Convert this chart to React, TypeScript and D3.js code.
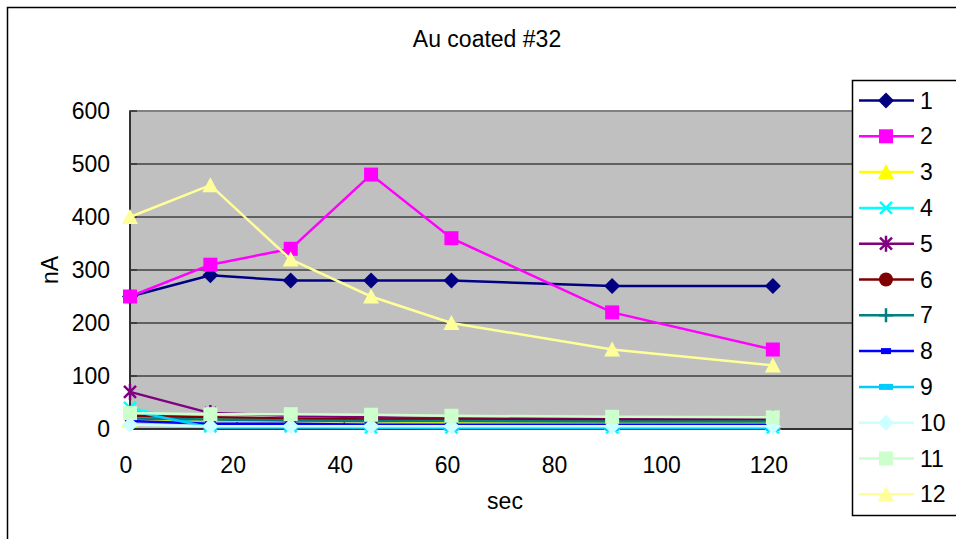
import React from 'react';
import * as d3 from 'd3';

// time points (sec)
const times = [0, 15, 30, 45, 60, 90, 120];

const s1 = [250, 290, 280, 280, 280, 270, 270];
const s2 = [250, 310, 340, 480, 360, 220, 150];
const s3 = [17, 18, 15, 15, 12, 12, 12];
const s4 = [40, 5, 5, 3, 3, 3, 3];
const s5 = [70, 30, 25, 22, 20, 20, 20];
const s6 = [25, 22, 20, 18, 18, 17, 17];
const s7 = [20, 18, 16, 15, 15, 14, 14];
const s8 = [15, 10, 10, 8, 8, 8, 8];
const s9 = [35, 3, 3, 3, 2, 2, 2];
const s10 = [8, 5, 5, 5, 5, 5, 5];
const s11 = [30, 28, 28, 27, 25, 23, 22];
const s12 = [400, 460, 320, 250, 200, 150, 120];

const seriesNames = ['1', '2', '3', '4', '5', '6', '7', '8', '9', '10', '11', '12'];
const seriesValues = [s1, s2, s3, s4, s5, s6, s7, s8, s9, s10, s11, s12];
const colors = ['#000080', '#FF00FF', '#FFFF00', '#00FFFF', '#800080', '#800000',
  '#008080', '#0000FF', '#00CCFF', '#CCFFFF', '#CCFFCC', '#FFFF99'];
const markers = ['diamond', 'square', 'triangle', 'x', 'star', 'circle',
  'plus', 'dash', 'bar', 'diamond', 'square', 'triangle'];

const yTicks = [0, 100, 200, 300, 400, 500, 600];
const xTicks = [0, 20, 40, 60, 80, 100, 120, 140];

const W = 956, H = 539;
const plot = { left: 130, top: 111, right: 880, bottom: 429 };

const font = 'Liberation Sans, Arial, sans-serif';

function Marker({ type, x, y, color }: { type: string; x: number; y: number; color: string }) {
  switch (type) {
    case 'diamond':
      return <path d={`M${x},${y - 8}L${x + 8},${y}L${x},${y + 8}L${x - 8},${y}Z`} fill={color} />;
    case 'square':
      return <rect x={x - 7} y={y - 7} width={14} height={14} fill={color} />;
    case 'triangle':
      return <path d={`M${x},${y - 8}L${x + 8},${y + 7}L${x - 8},${y + 7}Z`} fill={color} />;
    case 'x':
      return <path d={`M${x - 6},${y - 6}L${x + 6},${y + 6}M${x + 6},${y - 6}L${x - 6},${y + 6}`} stroke={color} strokeWidth={2.5} />;
    case 'star':
      return <path d={`M${x - 6},${y - 6}L${x + 6},${y + 6}M${x + 6},${y - 6}L${x - 6},${y + 6}M${x},${y - 8}L${x},${y + 8}`} stroke={color} strokeWidth={2.5} />;
    case 'circle':
      return <circle cx={x} cy={y} r={7} fill={color} />;
    case 'plus':
      return <path d={`M${x - 7},${y}L${x + 7},${y}M${x},${y - 7}L${x},${y + 7}`} stroke={color} strokeWidth={2.5} />;
    case 'dash':
      return <rect x={x - 5} y={y - 3} width={10} height={6} fill={color} />;
    case 'bar':
      return <rect x={x - 7} y={y - 3} width={14} height={6} fill={color} />;
    default:
      return null;
  }
}

export default function App() {
  const x = d3.scaleLinear().domain([0, 140]).range([plot.left, plot.right]);
  const y = d3.scaleLinear().domain([0, 600]).range([plot.bottom, plot.top]);
  const line = d3.line<number>().x((_, i) => x(times[i])).y((d) => y(d));

  const legend = { left: 852.5, top: 80.5, rowH: 35.8 };

  return (
    <svg width={W} height={H} style={{ position: 'absolute', left: 0, top: 0 }} fontFamily={font}>
      <rect x={0} y={0} width={W} height={H} fill="#fff" />
      <rect x={7.5} y={7.5} width={W + 10} height={H + 10} fill="none" stroke="#000" strokeWidth={1.5} />
      <text x={487} y={47} textAnchor="middle" fontSize={23}>Au coated #32</text>

      <rect x={plot.left} y={plot.top} width={plot.right - plot.left} height={plot.bottom - plot.top}
        fill="#C0C0C0" stroke="#808080" strokeWidth={2} />
      {yTicks.slice(1, -1).map((t) => (
        <line key={t} x1={plot.left} x2={plot.right} y1={y(t)} y2={y(t)} stroke="#000" strokeWidth={1} />
      ))}
      {/* axes */}
      <line x1={plot.left} x2={plot.left} y1={plot.top} y2={plot.bottom} stroke="#333" strokeWidth={2} />
      <line x1={plot.left} x2={plot.right} y1={plot.bottom} y2={plot.bottom} stroke="#333" strokeWidth={2} />
      {yTicks.map((t) => (
        <g key={t}>
          <line x1={plot.left} x2={plot.left + 7} y1={y(t)} y2={y(t)} stroke="#333" strokeWidth={1.5} />
          <text x={110} y={y(t) + 8} textAnchor="end" fontSize={23}>{t}</text>
        </g>
      ))}
      {xTicks.map((t) => (
        <g key={t}>
          <line x1={x(t)} x2={x(t)} y1={plot.bottom} y2={plot.bottom - 7} stroke="#333" strokeWidth={1.5} />
          <text x={x(t) - 4} y={473} textAnchor="middle" fontSize={23}>{t}</text>
        </g>
      ))}
      <text x={505} y={509} textAnchor="middle" fontSize={23}>sec</text>
      <text transform="translate(58,270) rotate(-90)" textAnchor="middle" fontSize={23}>nA</text>

      {seriesValues.map((vals, si) => (
        <g key={si}>
          <path d={line(vals) || ''} fill="none" stroke={colors[si]} strokeWidth={2.5} />
          {vals.map((v, i) => (
            <Marker key={i} type={markers[si]} x={x(times[i])} y={y(v)} color={colors[si]} />
          ))}
        </g>
      ))}

      <rect x={legend.left} y={legend.top} width={W} height={435} fill="#fff" stroke="#000" strokeWidth={1.5} />
      {seriesNames.map((n, i) => {
        const ly = legend.top + 20 + i * legend.rowH;
        return (
          <g key={n}>
            <line x1={859} x2={914} y1={ly} y2={ly} stroke={colors[i]} strokeWidth={2.5} />
            <Marker type={markers[i]} x={886} y={ly} color={colors[i]} />
            <text x={920} y={ly + 8} fontSize={23}>{n}</text>
          </g>
        );
      })}
    </svg>
  );
}
